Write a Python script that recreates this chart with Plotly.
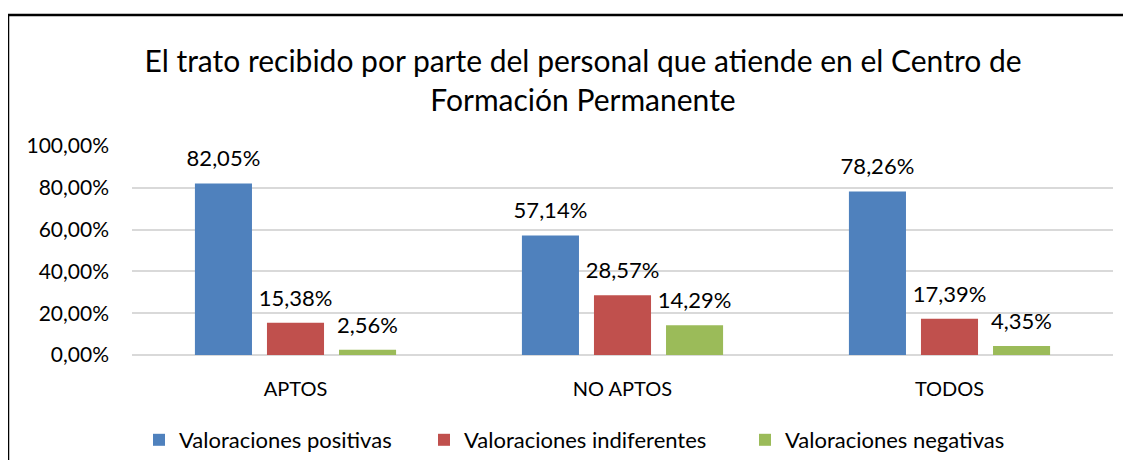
import plotly.graph_objects as go

categories = ["APTOS", "NO APTOS", "TODOS"]
series_names = ["Valoraciones positivas", "Valoraciones indiferentes", "Valoraciones negativas"]
positivas = [0.8205, 0.5714, 0.7826]
indiferentes = [0.1538, 0.2857, 0.1739]
negativas = [0.0256, 0.1429, 0.0435]
colors = ["#4F81BD", "#C0504D", "#9BBB59"]
title_text = "El trato recibido por parte del personal que atiende en el Centro de<br>Formación Permanente"

FONT = "Lato"
OFF = 8  # page body margin
W, H = 1131 - OFF, 468 - 2 * OFF
# plot area in reference pixel coords
X0, X1, Y0, Y1 = 132, 1113, 146, 355
L, R, T, B = X0 - OFF, 1131 - X1, Y0 - OFF, (OFF + H) - Y1
pw = X1 - X0
ph = Y1 - Y0

def px_x(px):
    return (px - X0) / pw

def px_y(py):
    return (Y1 - py) / ph

def cx(px):
    return (px - OFF) / W

def cy(py):
    return 1 - (py - OFF) / H

fig = go.Figure()
legend_ids = ["legend", "legend2", "legend3"]
all_vals = [positivas, indiferentes, negativas]
for name, vals, col, lg in zip(series_names, all_vals, colors, legend_ids):
    fig.add_trace(go.Bar(
        x=categories, y=vals, name=name,
        marker=dict(color=col, line=dict(width=0)),
        legend=lg, offsetgroup=name,
    ))
# data labels, grouped the same way as the bars
for name, vals in zip(series_names, all_vals):
    fig.add_trace(go.Scatter(
        x=categories, y=vals, mode="markers+text",
        texttemplate="%{y:.2%}", textposition="top center",
        textfont=dict(family=FONT, size=22, color="#000000"),
        marker=dict(size=17, opacity=0), showlegend=False, hoverinfo="skip",
        offsetgroup=name, cliponaxis=False,
    ))

leg_common = dict(orientation="h", font=dict(family=FONT, size=22, color="#000000"),
                  bgcolor="rgba(0,0,0,0)", borderwidth=0, xanchor="left", yanchor="middle",
                  xref="container", yref="container", itemwidth=30)

fig.update_layout(
    width=W, height=H,
    margin=dict(l=L, r=R, t=T, b=B, pad=0, autoexpand=False),
    paper_bgcolor="white", plot_bgcolor="white",
    separators=",.",
    barmode="group", bargap=0.339, bargroupgap=0.208,
    scattermode="group", scattergap=0.339,
    title=dict(text=title_text, x=cx(583), xref="container", xanchor="center",
               y=cy(72), yref="container", yanchor="middle",
               font=dict(family=FONT, size=30, color="#000000")),
    xaxis=dict(showgrid=False, showline=False, ticks="", ticklabelstandoff=20,
               automargin=False,
               tickfont=dict(family=FONT, size=20, color="#000000")),
    yaxis=dict(range=[0, 1], dtick=0.2, tickformat=".2%", showgrid=True,
               gridcolor="#D9D9D9", gridwidth=2, zeroline=True, zerolinecolor="#D9D9D9",
               zerolinewidth=2, showline=False, ticks="", ticklabelstandoff=22,
               automargin=False,
               tickfont=dict(family=FONT, size=21, color="#000000")),
    legend=dict(x=cx(139), y=cy(440), **leg_common),
    legend2=dict(x=cx(424), y=cy(440), **leg_common),
    legend3=dict(x=cx(745), y=cy(440), **leg_common),
    showlegend=True,
)

fig.add_shape(type="path", xref="paper", yref="paper",
              path=f"M {px_x(8)},{px_y(480)} L {px_x(8)},{px_y(15)} L {px_x(1140)},{px_y(15)}",
              line=dict(color="#000000", width=2.5))

fig.write_html("out.html")
